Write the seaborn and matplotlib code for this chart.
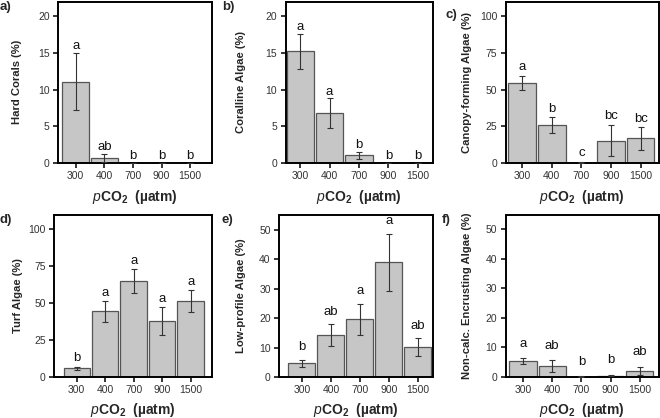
import numpy as np
import pandas as pd
import matplotlib
matplotlib.use("Agg")
import matplotlib.pyplot as plt
import seaborn as sns

sns.set_theme(style="white")
plt.rcParams['font.family'] = ['Liberation Sans', 'DejaVu Sans']
plt.rcParams['mathtext.fontset'] = 'custom'
plt.rcParams['mathtext.rm'] = 'Liberation Sans'
plt.rcParams['mathtext.it'] = 'Liberation Sans:italic'
plt.rcParams['mathtext.bf'] = 'Liberation Sans:bold'

categories = ["300", "400", "700", "900", "1500"]

hard_corals = [11.1, 0.7, 0.0, 0.0, 0.0]
hard_corals_se = [3.9, 0.5, 0.0, 0.0, 0.0]
hard_corals_letters = ["a", "ab", "b", "b", "b"]

coralline = [15.2, 6.8, 1.05, 0.0, 0.0]
coralline_se = [2.4, 2.0, 0.5, 0.0, 0.0]
coralline_letters = ["a", "a", "b", "b", "b"]

canopy = [54.4, 25.9, 0.3, 15.3, 16.7]
canopy_se = [4.7, 5.2, 0.2, 10.4, 7.6]
canopy_letters = ["a", "b", "c", "bc", "bc"]

turf = [5.9, 44.5, 65.0, 37.9, 51.2]
turf_se = [1.2, 7.2, 8.0, 9.5, 7.5]
turf_letters = ["b", "a", "a", "a", "a"]

low_profile = [4.7, 14.2, 19.6, 38.9, 10.1]
low_profile_se = [1.2, 3.7, 5.3, 9.8, 3.0]
low_profile_letters = ["b", "ab", "a", "a", "ab"]

noncalc = [5.3, 3.6, 0.1, 0.5, 2.1]
noncalc_se = [1.0, 2.0, 0.1, 0.3, 1.4]
noncalc_letters = ["a", "ab", "b", "b", "ab"]

ylabels = ["Hard Corals (%)", "Coralline Algae (%)", "Canopy-forming Algae (%)",
           "Turf Algae (%)", "Low-profile Algae (%)", "Non-calc. Encrusting Algae (%)"]
panel_tags = ["a)", "b)", "c)", "d)", "e)", "f)"]
ylims = [22, 22, 110, 110, 55, 55]
yticks = [[0, 5, 10, 15, 20], [0, 5, 10, 15, 20], [0, 25, 50, 75, 100],
          [0, 25, 50, 75, 100], [0, 10, 20, 30, 40, 50], [0, 10, 20, 30, 40, 50]]

means = [hard_corals, coralline, canopy, turf, low_profile, noncalc]
ses = [hard_corals_se, coralline_se, canopy_se, turf_se, low_profile_se, noncalc_se]
letters = [hard_corals_letters, coralline_letters, canopy_letters,
           turf_letters, low_profile_letters, noncalc_letters]

W, H = 660, 418
fig = plt.figure(figsize=(W / 100, H / 100), dpi=100)

# pixel boxes: left, right, top, bottom
boxes = [(58, 212, 1.5, 163), (285.5, 433, 1.5, 163), (505.5, 658.5, 1.5, 163),
         (54, 212, 214.5, 377), (279, 432.5, 215, 377), (505.5, 658.5, 214.5, 377)]
xlims = [(-0.62, 4.76), (-0.5, 4.52), (-0.56, 4.6),
         (-0.8, 4.75), (-0.79, 4.5), (-0.6, 4.64)]
letter_offsets = [0.5, 0.5, 2, 1.5, 4.5, 6]  # points
tag_pos = [(0, 7), (222, 7), (446, 15), (0, 220), (222, 220), (442, 220)]
ylabel_x = [22, 246, 472, 23, 246, 472]  # pixel x of ylabel centre
xlabel_y = [197, 197, 197, 410, 410, 410]  # pixel y of xlabel centre

xlabel = r'$\mathit{p}$' + r'$\mathbf{CO_2}$' + '  (µatm)'

for i in range(6):
    l, r, t, b = boxes[i]
    ax = fig.add_axes([l / W, 1 - b / H, (r - l) / W, (b - t) / H])
    df = pd.DataFrame({"pCO2": categories, "value": means[i]})
    sns.barplot(data=df, x="pCO2", y="value", order=categories, ax=ax,
                color="#c6c6c6", saturation=1, width=0.93, errorbar=None,
                edgecolor="#555555", linewidth=0.9)
    xs = np.arange(len(categories))
    ax.errorbar(xs, means[i], yerr=ses[i], fmt="none", ecolor="#333333",
                elinewidth=0.8, capsize=2, capthick=0.8, zorder=5)
    for x, m, s, lt in zip(xs, means[i], ses[i], letters[i]):
        ax.annotate(lt, (x, m + s), xytext=(0, letter_offsets[i]),
                    textcoords="offset points", ha="center", va="bottom",
                    fontsize=9.5, color="#111111")
    ax.set_xlim(*xlims[i])
    ax.set_ylim(0, ylims[i])
    ax.set_yticks(yticks[i])
    ax.set_ylabel(ylabels[i], fontsize=8.1, fontweight="bold")
    ax.yaxis.set_label_coords((ylabel_x[i] - l) / (r - l), 0.5)
    ax.set_xlabel(xlabel, fontsize=10, fontweight="bold")
    ax.xaxis.set_label_coords(0.5, -(xlabel_y[i] - b) / (b - t))
    ax.xaxis.label.set_va("center")
    for sp in ax.spines.values():
        sp.set_visible(True)
        sp.set_color("black")
        sp.set_linewidth(1.4)
    ax.tick_params(axis="both", which="both", direction="out", length=3.5,
                   width=1.1, color="black", labelsize=7.5, labelcolor="#333333",
                   pad=2.5, left=True, bottom=True)
    fig.text(tag_pos[i][0] / W, 1 - tag_pos[i][1] / H, panel_tags[i],
             fontsize=9.5, fontweight="bold", ha="left", va="center")

fig.savefig("out.png", dpi=100)
